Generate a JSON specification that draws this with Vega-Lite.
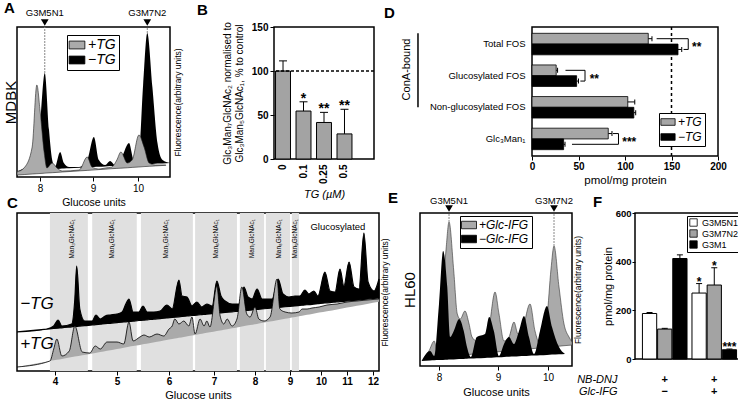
{
"$schema": "https://vega.github.io/schema/vega-lite/v6.json",
"padding": {"left": 2, "top": 0, "right": 0, "bottom": 0},
"background": "white",
"spacing": -19,
"resolve": {"scale": {"color": "independent"}, "legend": {"color": "independent"}},
"config": {
  "font": "Liberation Sans",
  "view": {"stroke": "#000", "strokeWidth": 1.5},
  "axis": {"domain": false, "grid": false, "tickColor": "#000", "tickSize": 4, "tickWidth": 1, "labelColor": "#000", "titleColor": "#000", "titleFontWeight": "normal", "labelFlush": false, "labelFontSize": 10, "titleFontSize": 11, "labelPadding": 2, "titlePadding": 4},
  "legend": {"strokeColor": "#000", "strokeWidth": 1, "padding": 3, "rowPadding": 2, "labelColor": "#000", "labelFontStyle": "italic", "symbolStrokeColor": "#000", "symbolStrokeWidth": 0.8, "symbolOpacity": 1, "fillColor": "#fff"},
  "title": {"fontSize": 15, "fontWeight": "bold", "anchor": "start", "frame": "group", "color": "#000"},
  "text": {"color": "#000"}
},
"datasets": {
  "a_minus": [
    {"gu":7.56,"h":6,"b":6,"s":"−TG"},{"gu":7.71,"h":9,"b":6.4,"s":"−TG"},{"gu":7.90,"h":17,"b":6.9,"s":"−TG"},{"gu":8.00,"h":52,"b":7.2,"s":"−TG"},{"gu":8.09,"h":104,"b":7.5,"s":"−TG"},{"gu":8.17,"h":47,"b":7.7,"s":"−TG"},{"gu":8.23,"h":17,"b":7.8,"s":"−TG"},{"gu":8.28,"h":10,"b":8.0,"s":"−TG"},{"gu":8.38,"h":25,"b":8.3,"s":"−TG"},{"gu":8.45,"h":14,"b":8.5,"s":"−TG"},{"gu":8.55,"h":10,"b":8.7,"s":"−TG"},{"gu":8.74,"h":10,"b":9.3,"s":"−TG"},{"gu":8.89,"h":17,"b":9.7,"s":"−TG"},{"gu":9.02,"h":40,"b":10.1,"s":"−TG"},{"gu":9.13,"h":17,"b":10.3,"s":"−TG"},{"gu":9.27,"h":12,"b":10.6,"s":"−TG"},{"gu":9.38,"h":16,"b":10.9,"s":"−TG"},{"gu":9.49,"h":12,"b":11.2,"s":"−TG"},{"gu":9.64,"h":20,"b":11.5,"s":"−TG"},{"gu":9.80,"h":34,"b":11.9,"s":"−TG"},{"gu":9.91,"h":17,"b":12.2,"s":"−TG"},{"gu":10.02,"h":24,"b":12.4,"s":"−TG"},{"gu":10.11,"h":92,"b":12.6,"s":"−TG"},{"gu":10.20,"h":144,"b":12.8,"s":"−TG"},{"gu":10.31,"h":90,"b":13.1,"s":"−TG"},{"gu":10.42,"h":34,"b":13.4,"s":"−TG"},{"gu":10.53,"h":17,"b":13.6,"s":"−TG"},{"gu":10.69,"h":14,"b":14,"s":"−TG"}
  ],
  "a_plus": [
    {"gu":7.56,"h":5,"b":2,"s":"+TG"},{"gu":7.71,"h":10,"b":2.5,"s":"+TG"},{"gu":7.85,"h":30,"b":3,"s":"+TG"},{"gu":7.94,"h":92,"b":3.3,"s":"+TG"},{"gu":8.00,"h":67,"b":3.5,"s":"+TG"},{"gu":8.08,"h":24,"b":3.8,"s":"+TG"},{"gu":8.13,"h":9,"b":4,"s":"+TG"},{"gu":8.23,"h":14,"b":4.3,"s":"+TG"},{"gu":8.32,"h":9,"b":4.6,"s":"+TG"},{"gu":8.42,"h":6,"b":5,"s":"+TG"},{"gu":8.74,"h":7,"b":6.1,"s":"+TG"},{"gu":8.89,"h":20,"b":6.6,"s":"+TG"},{"gu":8.98,"h":10,"b":6.9,"s":"+TG"},{"gu":9.13,"h":8,"b":7.4,"s":"+TG"},{"gu":9.27,"h":9,"b":7.8,"s":"+TG"},{"gu":9.42,"h":10,"b":8.3,"s":"+TG"},{"gu":9.53,"h":17,"b":8.6,"s":"+TG"},{"gu":9.62,"h":25,"b":8.8,"s":"+TG"},{"gu":9.76,"h":14,"b":9.2,"s":"+TG"},{"gu":9.87,"h":17,"b":9.6,"s":"+TG"},{"gu":10.02,"h":42,"b":10,"s":"+TG"},{"gu":10.13,"h":30,"b":10.4,"s":"+TG"},{"gu":10.24,"h":14,"b":10.7,"s":"+TG"},{"gu":10.38,"h":12,"b":11.1,"s":"+TG"},{"gu":10.60,"h":12,"b":11.7,"s":"+TG"}
  ],
  "a_ann": [{"gu":8.09,"t":"G3M5N1","pk":104},{"gu":10.20,"t":"G3M7N2","pk":144}],
  "b_bars": [{"tg":"0","v":100,"u":111.5,"sig":""},{"tg":"0.1","v":54.5,"u":65,"sig":"*"},{"tg":"0.25","v":41.5,"u":53,"sig":"**"},{"tg":"0.5","v":28.5,"u":56.5,"sig":"**"}],
  "d_bars": [
    {"cat":"Total FOS","s":"+TG","v":125,"u":129},{"cat":"Total FOS","s":"−TG","v":157,"u":161},
    {"cat":"Glucosylated FOS","s":"+TG","v":26,"u":27.5},{"cat":"Glucosylated FOS","s":"−TG","v":48,"u":50},
    {"cat":"Non-glucosylated FOS","s":"+TG","v":103,"u":110.5},{"cat":"Non-glucosylated FOS","s":"−TG","v":109.5,"u":111.5},
    {"cat":"Glc₃Man₁","s":"+TG","v":82,"u":86},{"cat":"Glc₃Man₁","s":"−TG","v":34,"u":35.5}
  ],
  "d_br": [
    {"cat":"Total FOS","s":"+TG","x1":134,"x2":168},{"cat":"Total FOS","s":"−TG","x1":163,"x2":168},
    {"cat":"Glucosylated FOS","s":"+TG","x1":36,"x2":57},{"cat":"Glucosylated FOS","s":"−TG","x1":52,"x2":57},
    {"cat":"Glc₃Man₁","s":"+TG","x1":87,"x2":93},{"cat":"Glc₃Man₁","s":"−TG","x1":43,"x2":93}
  ],
  "d_brv": [{"cat":"Total FOS","xv":168},{"cat":"Glucosylated FOS","xv":57},{"cat":"Glc₃Man₁","xv":93}],
  "d_st": [{"cat":"Total FOS","x":172,"t":"**"},{"cat":"Glucosylated FOS","x":62,"t":"**"},{"cat":"Glc₃Man₁","x":97,"t":"***"}],
  "c_bands": [{"x1":3.92,"x2":4.53},{"x1":4.60,"x2":5.38},{"x1":5.46,"x2":6.53},{"x1":6.58,"x2":7.56},{"x1":7.63,"x2":8.26},{"x1":8.31,"x2":9.0},{"x1":9.06,"x2":9.29}],
  "c_labels": [{"gu":4.27,"t":"Man₃GlcNAc₁"},{"gu":4.92,"t":"Man₄GlcNAc₁"},{"gu":5.94,"t":"Man₅GlcNAc₁"},{"gu":7.05,"t":"Man₆GlcNAc₁"},{"gu":7.93,"t":"Man₇GlcNAc₁"},{"gu":8.69,"t":"Man₈GlcNAc₁"},{"gu":9.16,"t":"Man₉GlcNAc₁"}],
  "c_minus": [
    {"gu":3.40,"h":39,"b":39},{"gu":3.87,"h":42,"b":41.8},{"gu":3.98,"h":45,"b":42.5},{"gu":4.05,"h":51,"b":42.9},{"gu":4.11,"h":45,"b":43.2},{"gu":4.27,"h":47,"b":44.2},{"gu":4.32,"h":72,"b":44.5},{"gu":4.35,"h":105,"b":44.6},{"gu":4.40,"h":62,"b":44.9},{"gu":4.48,"h":50,"b":45.4},{"gu":4.60,"h":50,"b":46},{"gu":4.66,"h":56,"b":46.4},{"gu":4.73,"h":52,"b":46.8},{"gu":4.81,"h":55,"b":47.3},{"gu":4.89,"h":56,"b":47.7},{"gu":5.00,"h":57,"b":48.4},{"gu":5.10,"h":59,"b":48.9},{"gu":5.17,"h":67,"b":49.2},{"gu":5.23,"h":72,"b":49.5},{"gu":5.31,"h":59,"b":49.9},{"gu":5.42,"h":59,"b":50.5},{"gu":5.50,"h":65,"b":50.8},{"gu":5.58,"h":59,"b":51.2},{"gu":5.71,"h":59,"b":51.9},{"gu":5.83,"h":60,"b":52.4},{"gu":5.96,"h":66,"b":53.1},{"gu":6.07,"h":62,"b":53.6},{"gu":6.22,"h":91,"b":54.2},{"gu":6.29,"h":75,"b":54.5},{"gu":6.40,"h":74,"b":55},{"gu":6.51,"h":65,"b":55.5},{"gu":6.62,"h":69,"b":55.9},{"gu":6.73,"h":64,"b":56.4},{"gu":6.84,"h":67,"b":56.9},{"gu":6.96,"h":65,"b":57.3},{"gu":7.07,"h":90,"b":57.8},{"gu":7.17,"h":75,"b":58.2},{"gu":7.27,"h":70,"b":58.6},{"gu":7.44,"h":67,"b":59.2},{"gu":7.61,"h":67,"b":59.9},{"gu":7.73,"h":84,"b":60.3},{"gu":7.83,"h":74,"b":60.7},{"gu":7.93,"h":72,"b":61.1},{"gu":8.06,"h":82,"b":61.6},{"gu":8.20,"h":72,"b":62},{"gu":8.49,"h":72,"b":63},{"gu":8.66,"h":92,"b":63.5},{"gu":8.80,"h":77,"b":64},{"gu":8.97,"h":74,"b":64.6},{"gu":9.16,"h":75,"b":65.1},{"gu":9.32,"h":75,"b":65.6},{"gu":9.48,"h":81,"b":66.1},{"gu":9.61,"h":77,"b":66.4},{"gu":9.77,"h":80,"b":66.9},{"gu":9.90,"h":75,"b":67.3},{"gu":10.15,"h":99,"b":68},{"gu":10.35,"h":80,"b":68.4},{"gu":10.54,"h":79,"b":68.9},{"gu":10.73,"h":102,"b":69.4},{"gu":10.88,"h":85,"b":69.7},{"gu":11.08,"h":109,"b":70.2},{"gu":11.27,"h":84,"b":70.7},{"gu":11.46,"h":82,"b":71.1},{"gu":11.65,"h":138,"b":71.6},{"gu":11.81,"h":89,"b":72},{"gu":12.04,"h":80,"b":72.6},{"gu":12.23,"h":92,"b":73}
  ],
  "c_plus": [
    {"gu":3.40,"h":4,"b":4},{"gu":3.92,"h":10,"b":10},{"gu":3.98,"h":22,"b":10.7},{"gu":4.03,"h":32,"b":11.2},{"gu":4.11,"h":15,"b":12.1},{"gu":4.23,"h":20,"b":13.4},{"gu":4.32,"h":45,"b":14.4},{"gu":4.44,"h":19,"b":15.7},{"gu":4.56,"h":18,"b":17.1},{"gu":4.65,"h":25,"b":18},{"gu":4.73,"h":22,"b":18.9},{"gu":4.84,"h":29,"b":20.2},{"gu":5.00,"h":29,"b":22},{"gu":5.13,"h":27,"b":23.3},{"gu":5.23,"h":49,"b":24.2},{"gu":5.31,"h":30,"b":24.9},{"gu":5.44,"h":34,"b":26.1},{"gu":5.52,"h":36,"b":26.9},{"gu":5.62,"h":34,"b":27.8},{"gu":5.77,"h":37,"b":29.2},{"gu":5.90,"h":35,"b":30.5},{"gu":6.00,"h":42,"b":31.4},{"gu":6.07,"h":45,"b":31.9},{"gu":6.13,"h":52,"b":32.4},{"gu":6.22,"h":47,"b":33.2},{"gu":6.33,"h":50,"b":34.1},{"gu":6.44,"h":45,"b":35},{"gu":6.51,"h":54,"b":35.5},{"gu":6.58,"h":37,"b":36},{"gu":6.69,"h":52,"b":36.9},{"gu":6.78,"h":45,"b":37.7},{"gu":6.84,"h":50,"b":38.2},{"gu":6.91,"h":44,"b":38.7},{"gu":7.07,"h":85,"b":40},{"gu":7.15,"h":55,"b":40.5},{"gu":7.24,"h":47,"b":41.3},{"gu":7.32,"h":52,"b":41.8},{"gu":7.44,"h":45,"b":42.7},{"gu":7.56,"h":52,"b":43.6},{"gu":7.68,"h":84,"b":44.5},{"gu":7.80,"h":57,"b":45.4},{"gu":7.88,"h":54,"b":45.9},{"gu":8.00,"h":64,"b":46.8},{"gu":8.11,"h":52,"b":47.6},{"gu":8.26,"h":50,"b":48.5},{"gu":8.43,"h":54,"b":49.5},{"gu":8.63,"h":92,"b":50.8},{"gu":8.71,"h":62,"b":51.3},{"gu":8.86,"h":59,"b":52.2},{"gu":9.06,"h":58,"b":53.5},{"gu":9.29,"h":59,"b":54.8},{"gu":9.39,"h":62,"b":55.3},{"gu":9.55,"h":62,"b":56.2},{"gu":9.71,"h":63,"b":57.1},{"gu":9.94,"h":64,"b":58.4},{"gu":10.23,"h":66,"b":59.8},{"gu":10.62,"h":67,"b":61.6},{"gu":11.00,"h":69,"b":63.4},{"gu":11.38,"h":70,"b":65.2},{"gu":11.77,"h":71,"b":67},{"gu":12.23,"h":72,"b":69.2}
  ],
  "e_plus": [
    {"gu":7.75,"h":8,"b":7.4,"s":"+Glc-IFG"},{"gu":7.83,"h":15,"b":7.8,"s":"+Glc-IFG"},{"gu":7.92,"h":25,"b":8.3,"s":"+Glc-IFG"},{"gu":7.97,"h":15,"b":8.6,"s":"+Glc-IFG"},{"gu":8.05,"h":62,"b":9,"s":"+Glc-IFG"},{"gu":8.12,"h":117,"b":9.4,"s":"+Glc-IFG"},{"gu":8.17,"h":144,"b":9.7,"s":"+Glc-IFG"},{"gu":8.25,"h":95,"b":10.1,"s":"+Glc-IFG"},{"gu":8.31,"h":52,"b":10.4,"s":"+Glc-IFG"},{"gu":8.36,"h":47,"b":10.7,"s":"+Glc-IFG"},{"gu":8.44,"h":55,"b":11.1,"s":"+Glc-IFG"},{"gu":8.51,"h":42,"b":11.5,"s":"+Glc-IFG"},{"gu":8.56,"h":29,"b":11.8,"s":"+Glc-IFG"},{"gu":8.64,"h":25,"b":12.2,"s":"+Glc-IFG"},{"gu":8.73,"h":26,"b":12.7,"s":"+Glc-IFG"},{"gu":8.81,"h":22,"b":13.2,"s":"+Glc-IFG"},{"gu":8.86,"h":42,"b":13.4,"s":"+Glc-IFG"},{"gu":8.95,"h":74,"b":13.9,"s":"+Glc-IFG"},{"gu":9.02,"h":52,"b":14.3,"s":"+Glc-IFG"},{"gu":9.12,"h":25,"b":14.7,"s":"+Glc-IFG"},{"gu":9.22,"h":29,"b":15.2,"s":"+Glc-IFG"},{"gu":9.32,"h":44,"b":15.7,"s":"+Glc-IFG"},{"gu":9.40,"h":32,"b":16,"s":"+Glc-IFG"},{"gu":9.48,"h":35,"b":16.4,"s":"+Glc-IFG"},{"gu":9.64,"h":62,"b":17.1,"s":"+Glc-IFG"},{"gu":9.74,"h":35,"b":17.6,"s":"+Glc-IFG"},{"gu":9.84,"h":22,"b":18.1,"s":"+Glc-IFG"},{"gu":9.98,"h":49,"b":18.7,"s":"+Glc-IFG"},{"gu":10.06,"h":97,"b":19,"s":"+Glc-IFG"},{"gu":10.12,"h":120,"b":19.3,"s":"+Glc-IFG"},{"gu":10.22,"h":79,"b":19.8,"s":"+Glc-IFG"},{"gu":10.32,"h":42,"b":20.3,"s":"+Glc-IFG"},{"gu":10.42,"h":29,"b":20.7,"s":"+Glc-IFG"},{"gu":10.48,"h":24,"b":21,"s":"+Glc-IFG"}
  ],
  "e_minus": [
    {"gu":7.71,"h":5.5,"b":5.1,"s":"−Glc-IFG"},{"gu":7.85,"h":15,"b":5.5,"s":"−Glc-IFG"},{"gu":7.92,"h":10,"b":5.7,"s":"−Glc-IFG"},{"gu":8.00,"h":62,"b":5.9,"s":"−Glc-IFG"},{"gu":8.07,"h":115,"b":6.1,"s":"−Glc-IFG"},{"gu":8.14,"h":79,"b":6.3,"s":"−Glc-IFG"},{"gu":8.19,"h":29,"b":6.4,"s":"−Glc-IFG"},{"gu":8.25,"h":35,"b":6.6,"s":"−Glc-IFG"},{"gu":8.34,"h":47,"b":6.9,"s":"−Glc-IFG"},{"gu":8.42,"h":35,"b":7.1,"s":"−Glc-IFG"},{"gu":8.47,"h":20,"b":7.3,"s":"−Glc-IFG"},{"gu":8.54,"h":9,"b":7.5,"s":"−Glc-IFG"},{"gu":8.64,"h":29,"b":7.8,"s":"−Glc-IFG"},{"gu":8.78,"h":32,"b":8.1,"s":"−Glc-IFG"},{"gu":8.85,"h":49,"b":8.3,"s":"−Glc-IFG"},{"gu":8.93,"h":35,"b":8.6,"s":"−Glc-IFG"},{"gu":9.02,"h":10,"b":8.8,"s":"−Glc-IFG"},{"gu":9.12,"h":22,"b":9.1,"s":"−Glc-IFG"},{"gu":9.22,"h":29,"b":9.3,"s":"−Glc-IFG"},{"gu":9.32,"h":22,"b":9.5,"s":"−Glc-IFG"},{"gu":9.42,"h":35,"b":9.8,"s":"−Glc-IFG"},{"gu":9.52,"h":50,"b":10,"s":"−Glc-IFG"},{"gu":9.62,"h":29,"b":10.3,"s":"−Glc-IFG"},{"gu":9.72,"h":12,"b":10.5,"s":"−Glc-IFG"},{"gu":9.84,"h":35,"b":10.8,"s":"−Glc-IFG"},{"gu":9.98,"h":60,"b":11.1,"s":"−Glc-IFG"},{"gu":10.08,"h":39,"b":11.4,"s":"−Glc-IFG"},{"gu":10.22,"h":19,"b":11.7,"s":"−Glc-IFG"},{"gu":10.34,"h":12,"b":12,"s":"−Glc-IFG"}
  ],
  "e_ann": [{"gu":8.17,"t":"G3M5N1","pk":144},{"gu":10.12,"t":"G3M7N2","pk":120}],
  "f_bars": [
    {"g":"a","s":"G3M5N1","v":187,"u":191,"sig":""},{"g":"a","s":"G3M7N2","v":123,"u":126,"sig":""},{"g":"a","s":"G3M1","v":413,"u":428,"sig":""},
    {"g":"b","s":"G3M5N1","v":271,"u":310,"sig":"*"},{"g":"b","s":"G3M7N2","v":304,"u":375,"sig":"*"},{"g":"b","s":"G3M1","v":38,"u":41,"sig":"***"}
  ]
},
"vconcat": [
{
"resolve": {"scale": {"color": "independent"}, "legend": {"color": "independent"}},
"spacing": 0, "bounds": "flush",
"hconcat": [
  {
    "width": 153, "height": 150,
    "title": {"text": "A", "dx": -13, "offset": -8},
    "resolve": {"axis": {"y": "independent"}},
    "layer": [
      {"layer": [
        {"data": {"name": "a_minus"}, "mark": {"type": "area", "interpolate": "monotone"},
         "encoding": {
           "x": {"field": "gu", "type": "quantitative", "scale": {"domain": [7.56,8,9,10,10.69], "range": [0,23,76,121,153], "nice": false, "zero": false}, "axis": {"values": [8,9,10], "format": "d", "title": "Glucose units", "labelFontSize": 10, "titleFontSize": 10.5, "labelPadding": 2, "titlePadding": 4}},
           "y": {"field": "h", "type": "quantitative", "scale": {"domain": [0,150], "nice": false, "zero": false}, "axis": {"orient": "left", "title": "MDBK", "labels": false, "ticks": false, "titleFontSize": 15, "titlePadding": -1}},
           "y2": {"field": "b"},
           "color": {"field": "s", "type": "nominal", "scale": {"domain": ["+TG","−TG"], "range": ["#ababab","#000000"]}, "legend": {"orient": "none", "legendX": 50, "legendY": 8, "title": null, "labelFontSize": 14, "symbolType": "M-1.5,-0.75H1.5V0.75H-1.5Z", "symbolSize": 110, "rowPadding": 1}}
         }},
        {"data": {"name": "a_ann"}, "mark": {"type": "rule", "color": "#888", "strokeDash": [2,1], "strokeWidth": 1},
         "encoding": {
           "x": {"field": "gu", "type": "quantitative"},
           "y": {"field": "pk", "type": "quantitative"},
           "y2": {"datum": 150}
         }},
        {"data": {"name": "a_ann"}, "mark": {"type": "point", "shape": "triangle-down", "filled": true, "color": "#000", "size": 60, "opacity": 1},
         "encoding": {
           "x": {"field": "gu", "type": "quantitative"},
           "y": {"datum": 154.5, "type": "quantitative"}
         }},
        {"data": {"name": "a_ann"}, "mark": {"type": "text", "fontSize": 9.5, "baseline": "middle"},
         "encoding": {
           "x": {"field": "gu", "type": "quantitative"},
           "y": {"datum": 164, "type": "quantitative"},
           "text": {"field": "t"}
         }}
      ]},
      {"data": {"name": "a_plus"}, "mark": {"type": "area", "interpolate": "monotone", "stroke": "#222", "strokeWidth": 0.6},
       "encoding": {
         "x": {"field": "gu", "type": "quantitative"},
         "y": {"field": "h", "type": "quantitative", "scale": {"domain": [0,150], "nice": false, "zero": false}, "axis": {"orient": "right", "title": "Fluorescence(arbitrary units)", "labels": false, "ticks": false, "titleFontSize": 8.5, "titleAngle": 270, "titleBaseline": "top", "titlePadding": 3}},
         "y2": {"field": "b"},
         "color": {"field": "s", "type": "nominal"}
       }}
    ]
  },
  {"width": 104, "height": 1, "data": {"values": []}, "mark": "point", "view": {"stroke": null}},
  {
    "width": 100, "height": 132,
    "title": {"text": "B", "dx": -77, "offset": 4},
    "layer": [
      {"data": {"name": "b_bars"}, "mark": {"type": "bar", "fill": "#a3a3a3", "stroke": "#000", "strokeWidth": 1},
       "encoding": {
         "x": {"field": "tg", "type": "nominal", "sort": null, "scale": {"domain": ["0","0.1","0.25","0.5","_"], "paddingInner": 0.27, "paddingOuter": 0.075}, "axis": {"title": "TG (µM)", "titleFontStyle": "italic", "titleFontSize": 11, "labelAngle": 270, "labelAlign": "right", "labelBaseline": "middle", "labelFontSize": 10, "labelFontWeight": "bold", "ticks": false, "labelPadding": 5, "titlePadding": 5, "labelExpr": "datum.value == '_' ? '' : datum.value"}},
         "y": {"field": "v", "type": "quantitative", "scale": {"domain": [0,150], "nice": false}, "axis": {"values": [0,50,100,150], "title": ["Glc₃Man₇GlcNAc₂ normalised to", "Glc₃Man₅GlcNAc₁, % to control"], "titleFontSize": 10, "titleLineHeight": 12, "titlePadding": 7, "labelFontSize": 10, "labelFontWeight": "bold", "labelPadding": 2}}
       }},
      {"data": {"name": "b_bars"}, "mark": {"type": "rule", "color": "#000", "strokeWidth": 1},
       "encoding": {
         "x": {"field": "tg", "type": "nominal"},
         "y": {"field": "v", "type": "quantitative"},
         "y2": {"field": "u"}
       }},
      {"data": {"name": "b_bars"}, "mark": {"type": "tick", "color": "#000", "size": 8, "thickness": 1, "opacity": 1},
       "encoding": {
         "x": {"field": "tg", "type": "nominal"},
         "y": {"field": "u", "type": "quantitative"}
       }},
      {"data": {"name": "b_bars"}, "mark": {"type": "text", "fontSize": 14, "fontWeight": "bold", "baseline": "alphabetic", "dy": 1},
       "encoding": {
         "x": {"field": "tg", "type": "nominal"},
         "y": {"field": "u", "type": "quantitative"},
         "text": {"field": "sig"}
       }},
      {"data": {"values": [{}]}, "mark": {"type": "rule", "strokeDash": [3,2], "strokeWidth": 1.5, "color": "#000"},
       "encoding": {"y": {"datum": 100, "type": "quantitative"}}}
    ]
  },
  {"width": 158, "height": 1, "data": {"values": []}, "mark": "point", "view": {"stroke": null}},
  {
    "width": 186, "height": 129,
    "title": {"text": "D", "dx": -148, "offset": 5},
    "layer": [
      {"data": {"name": "d_bars"}, "mark": {"type": "bar", "stroke": "#000", "strokeWidth": 0.8},
       "encoding": {
         "y": {"field": "cat", "type": "nominal", "sort": null, "scale": {"domain": ["Total FOS","Glucosylated FOS","Non-glucosylated FOS","Glc₃Man₁"], "paddingInner": 0.32, "paddingOuter": 0.2}, "axis": {"title": "ConA-bound", "titleX": -126, "titleY": 42, "titleAngle": 270, "titleAlign": "center", "titleBaseline": "middle", "titleFontSize": 11, "ticks": false, "labelPadding": 7, "labelFontSize": 9.5}},
         "yOffset": {"field": "s", "type": "nominal", "sort": null, "scale": {"domain": ["+TG","−TG"], "paddingInner": 0}},
         "x": {"field": "v", "type": "quantitative", "scale": {"domain": [0,200], "nice": false}, "axis": {"values": [0,50,100,150,200], "title": "pmol/mg protein", "titleFontSize": 11.5, "labelFontSize": 10, "labelFontWeight": "bold", "labelPadding": 1, "titlePadding": 3}},
         "color": {"field": "s", "type": "nominal", "scale": {"domain": ["+TG","−TG"], "range": ["#a6a6a6","#000000"]}, "legend": {"orient": "none", "legendX": 127, "legendY": 86, "title": null, "labelFontSize": 12, "symbolType": "M-1.5,-0.7H1.5V0.7H-1.5Z", "symbolSize": 90, "rowPadding": 3}}
       }},
      {"data": {"name": "d_bars"}, "mark": {"type": "rule", "color": "#000", "strokeWidth": 1},
       "encoding": {
         "y": {"field": "cat", "type": "nominal"},
         "yOffset": {"field": "s", "type": "nominal"},
         "x": {"field": "v", "type": "quantitative"},
         "x2": {"field": "u"}
       }},
      {"data": {"name": "d_bars"}, "mark": {"type": "tick", "color": "#000", "size": 5, "thickness": 1, "opacity": 1},
       "encoding": {
         "y": {"field": "cat", "type": "nominal"},
         "yOffset": {"field": "s", "type": "nominal"},
         "x": {"field": "u", "type": "quantitative"}
       }},
      {"data": {"values": [{}]}, "mark": {"type": "rule", "strokeDash": [3,3], "strokeWidth": 1.5, "color": "#000"},
       "encoding": {"x": {"datum": 150, "type": "quantitative"}}},
      {"data": {"name": "d_br"}, "mark": {"type": "rule", "color": "#000", "strokeWidth": 1},
       "encoding": {
         "y": {"field": "cat", "type": "nominal"},
         "yOffset": {"field": "s", "type": "nominal"},
         "x": {"field": "x1", "type": "quantitative"},
         "x2": {"field": "x2"}
       }},
      {"data": {"name": "d_brv"}, "mark": {"type": "tick", "color": "#000", "size": 10.75, "thickness": 1, "opacity": 1},
       "encoding": {
         "y": {"field": "cat", "type": "nominal"},
         "x": {"field": "xv", "type": "quantitative"}
       }},
      {"data": {"name": "d_st"}, "mark": {"type": "text", "fontSize": 12, "fontWeight": "bold", "align": "left", "baseline": "middle", "dy": 3},
       "encoding": {
         "y": {"field": "cat", "type": "nominal"},
         "x": {"field": "x", "type": "quantitative"},
         "text": {"field": "t"}
       }},
      {"data": {"values": [{"c1": "Total FOS", "c2": "Non-glucosylated FOS"}]}, "mark": {"type": "rule", "color": "#000", "strokeWidth": 1.5},
       "encoding": {
         "x": {"datum": -122.6, "type": "quantitative"},
         "y": {"field": "c1", "type": "nominal", "bandPosition": 0},
         "y2": {"field": "c2"}
       }}
    ]
  }
]
},
{
"resolve": {"scale": {"color": "independent"}, "legend": {"color": "independent"}},
"spacing": 0, "bounds": "flush",
"hconcat": [
  {
    "width": 362, "height": 158,
    "title": {"text": "C", "dx": -10, "offset": 2},
    "layer": [
      {"data": {"name": "c_bands"}, "mark": {"type": "rect", "fill": "#e0e0e0"},
       "encoding": {
         "x": {"field": "x1", "type": "quantitative", "scale": {"domain": [3.4,4,5,6,7,8,9,10,11,12,12.23], "range": [0,38,100,152,197,238,273,304,330,356,362], "nice": false, "zero": false}, "axis": {"values": [4,5,6,7,8,9,10,11,12], "format": "d", "title": "Glucose units", "labelFontWeight": "bold", "labelFontSize": 10, "titleFontSize": 11, "labelPadding": 1, "titlePadding": 3}},
         "x2": {"field": "x2"}
       }},
      {"data": {"name": "c_minus"}, "mark": {"type": "area", "interpolate": "monotone", "fill": "#000", "stroke": "#000", "strokeWidth": 1.2},
       "encoding": {
         "x": {"field": "gu", "type": "quantitative"},
         "y": {"field": "h", "type": "quantitative", "scale": {"domain": [0,158], "nice": false, "zero": false}, "axis": {"orient": "right", "title": "Fluorescence(arbitrary units)", "labels": false, "ticks": false, "titleFontSize": 8.5, "titleAngle": 270, "titleBaseline": "top", "titlePadding": 1}},
         "y2": {"field": "b"}
       }},
      {"data": {"name": "c_plus"}, "mark": {"type": "area", "interpolate": "monotone", "fill": "#aaaaaa"},
       "encoding": {
         "x": {"field": "gu", "type": "quantitative"},
         "y": {"field": "h", "type": "quantitative"},
         "y2": {"field": "b"}
       }},
      {"data": {"name": "c_plus"}, "mark": {"type": "line", "interpolate": "monotone", "color": "#000", "strokeWidth": 0.8},
       "encoding": {
         "x": {"field": "gu", "type": "quantitative"},
         "y": {"field": "h", "type": "quantitative"}
       }},
      {"data": {"name": "c_labels"}, "mark": {"type": "text", "angle": 270, "align": "right", "baseline": "middle", "fontSize": 6.5},
       "encoding": {
         "x": {"field": "gu", "type": "quantitative"},
         "y": {"datum": 152, "type": "quantitative"},
         "text": {"field": "t"}
       }},
      {"data": {"values": [{}]}, "mark": {"type": "text", "fontSize": 9.5, "baseline": "middle", "text": "Glucosylated"},
       "encoding": {
         "x": {"datum": 10.65, "type": "quantitative"},
         "y": {"datum": 144, "type": "quantitative"}
       }},
      {"data": {"values": [{}]}, "mark": {"type": "text", "fontSize": 17, "fontStyle": "italic", "align": "left", "baseline": "middle", "text": "−TG"},
       "encoding": {
         "x": {"datum": 3.45, "type": "quantitative"},
         "y": {"datum": 67, "type": "quantitative"}
       }},
      {"data": {"values": [{}]}, "mark": {"type": "text", "fontSize": 17, "fontStyle": "italic", "align": "left", "baseline": "middle", "text": "+TG"},
       "encoding": {
         "x": {"datum": 3.45, "type": "quantitative"},
         "y": {"datum": 27, "type": "quantitative"}
       }}
    ]
  },
  {"width": 41, "height": 1, "data": {"values": []}, "mark": "point", "view": {"stroke": null}},
  {
    "width": 152, "height": 153,
    "title": {"text": "E", "dx": -32, "offset": -10},
    "resolve": {"axis": {"y": "independent"}},
    "layer": [
      {"layer": [
        {"data": {"name": "e_plus"}, "mark": {"type": "area", "interpolate": "monotone", "stroke": "#333", "strokeWidth": 0.6},
         "encoding": {
           "x": {"field": "gu", "type": "quantitative", "scale": {"domain": [7.68,8,9,10,10.48], "range": [0,19,78,128,152], "nice": false, "zero": false}, "axis": {"values": [8,9,10], "format": "d", "title": "Glucose units", "labelFontSize": 10, "titleFontSize": 11, "labelPadding": 2, "titlePadding": 4}},
           "y": {"field": "h", "type": "quantitative", "scale": {"domain": [0,153], "nice": false, "zero": false}, "axis": {"orient": "left", "title": "HL60", "labels": false, "ticks": false, "titleFontSize": 15, "titlePadding": 3}},
           "y2": {"field": "b"},
           "color": {"field": "s", "type": "nominal", "scale": {"domain": ["+Glc-IFG","−Glc-IFG"], "range": ["#aaaaaa","#000000"]}, "legend": {"orient": "none", "legendX": 40, "legendY": 3, "title": null, "labelFontSize": 12, "symbolType": "M-1.5,-0.75H1.5V0.75H-1.5Z", "symbolSize": 100, "rowPadding": 2}}
         }},
        {"data": {"name": "e_ann"}, "mark": {"type": "rule", "color": "#888", "strokeDash": [2,1], "strokeWidth": 1},
         "encoding": {
           "x": {"field": "gu", "type": "quantitative"},
           "y": {"field": "pk", "type": "quantitative"},
           "y2": {"datum": 153}
         }},
        {"data": {"name": "e_ann"}, "mark": {"type": "point", "shape": "triangle-down", "filled": true, "color": "#000", "size": 60, "opacity": 1},
         "encoding": {
           "x": {"field": "gu", "type": "quantitative"},
           "y": {"datum": 157.5, "type": "quantitative"}
         }},
        {"data": {"name": "e_ann"}, "mark": {"type": "text", "fontSize": 9.5, "baseline": "middle"},
         "encoding": {
           "x": {"field": "gu", "type": "quantitative"},
           "y": {"datum": 165, "type": "quantitative"},
           "text": {"field": "t"}
         }}
      ]},
      {"data": {"name": "e_minus"}, "mark": {"type": "area", "interpolate": "monotone"},
       "encoding": {
         "x": {"field": "gu", "type": "quantitative"},
         "y": {"field": "h", "type": "quantitative", "scale": {"domain": [0,153], "nice": false, "zero": false}, "axis": {"orient": "right", "title": "Fluorescence(arbitrary units)", "labels": false, "ticks": false, "titleFontSize": 8.5, "titleAngle": 270, "titleBaseline": "top", "titlePadding": 1}},
         "y2": {"field": "b"},
         "color": {"field": "s", "type": "nominal"}
       }}
    ]
  },
  {"width": 63, "height": 1, "data": {"values": []}, "mark": "point", "view": {"stroke": null}},
  {
    "width": 109, "height": 146,
    "title": {"text": "F", "dx": -42, "offset": -2},
    "resolve": {"axis": {"x": "independent"}},
    "layer": [
      {"layer": [
        {"data": {"name": "f_bars"}, "mark": {"type": "bar", "stroke": "#000", "strokeWidth": 1},
         "encoding": {
           "x": {"field": "g", "type": "nominal", "sort": null, "scale": {"domain": ["a","b"], "paddingInner": 0.1, "paddingOuter": 0.15}, "axis": {"orient": "bottom", "title": "NB-DNJ", "titleFontStyle": "italic", "titleFontSize": 11, "titleX": -18, "titleY": 14, "titleAlign": "right", "titleBaseline": "top", "titleAngle": 0, "ticks": false, "labelExpr": "'+'", "labelAngle": 0, "labelAlign": "center", "labelFontSize": 11, "labelFontWeight": "bold", "labelBaseline": "top", "labelPadding": 14}},
           "xOffset": {"field": "s", "type": "nominal", "sort": null, "scale": {"domain": ["G3M5N1","G3M7N2","G3M1"], "paddingInner": 0.06}},
           "y": {"field": "v", "type": "quantitative", "scale": {"domain": [0,600], "nice": false}, "axis": {"values": [0,200,400,600], "title": "pmol/mg protein", "titleFontSize": 11, "labelFontSize": 9.5, "labelFontWeight": "bold", "tickSize": 3, "labelPadding": 1, "titlePadding": 2}},
           "color": {"field": "s", "type": "nominal", "scale": {"domain": ["G3M5N1","G3M7N2","G3M1"], "range": ["#ffffff","#a3a3a3","#000000"]}, "legend": {"orient": "none", "legendX": 52, "legendY": 3, "title": null, "labelFontSize": 9, "labelFontStyle": "normal", "symbolType": "square", "symbolSize": 55, "rowPadding": 0, "padding": 2}}
         }},
        {"data": {"name": "f_bars"}, "mark": {"type": "rule", "color": "#000", "strokeWidth": 1},
         "encoding": {
           "x": {"field": "g", "type": "nominal"},
           "xOffset": {"field": "s", "type": "nominal"},
           "y": {"field": "v", "type": "quantitative"},
           "y2": {"field": "u"}
         }},
        {"data": {"name": "f_bars"}, "mark": {"type": "tick", "color": "#000", "size": 6, "thickness": 1, "opacity": 1},
         "encoding": {
           "x": {"field": "g", "type": "nominal"},
           "xOffset": {"field": "s", "type": "nominal"},
           "y": {"field": "u", "type": "quantitative"}
         }}
      ]},
      {"data": {"name": "f_bars"}, "mark": {"type": "text", "fontSize": 12, "fontWeight": "bold", "baseline": "alphabetic", "dy": 2},
       "encoding": {
         "x": {"field": "g", "type": "nominal", "axis": {"orient": "bottom", "offset": 12, "title": "Glc-IFG", "titleFontStyle": "italic", "titleFontSize": 11, "titleX": -18, "titleY": 14, "titleAlign": "right", "titleBaseline": "top", "titleAngle": 0, "ticks": false, "labelExpr": "datum.value == 'a' ? '−' : '+'", "labelAngle": 0, "labelAlign": "center", "labelFontSize": 11, "labelFontWeight": "bold", "labelBaseline": "top", "labelPadding": 14}},
         "xOffset": {"field": "s", "type": "nominal"},
         "y": {"field": "u", "type": "quantitative"},
         "text": {"field": "sig"}
       }}
    ]
  }
]
}
]
}
